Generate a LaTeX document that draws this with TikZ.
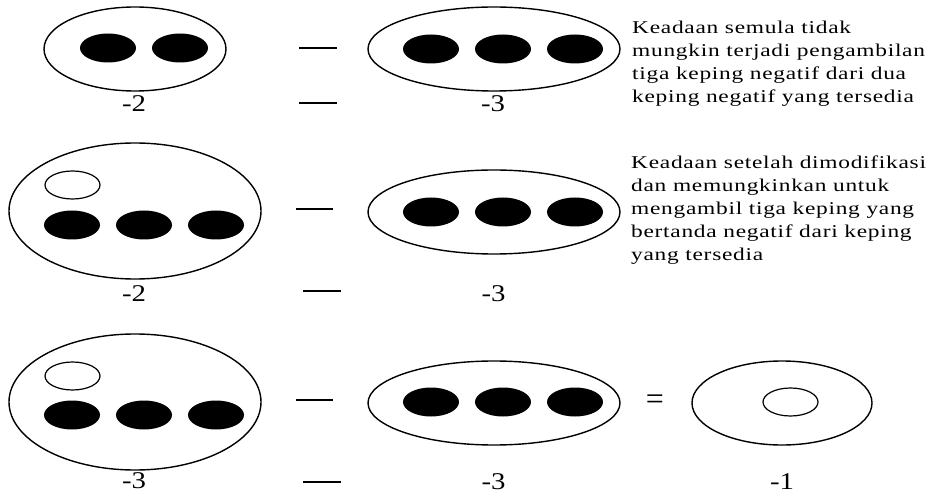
\documentclass[tikz,border=0pt]{standalone}
\usepackage{fontspec}
\setmainfont{Liberation Serif}
\newfontfamily\notefont[FakeStretch=1.3, LetterSpace=4]{Liberation Serif}
\newfontfamily\valfont[FakeStretch=1.2]{Liberation Serif}
\usetikzlibrary{shapes.geometric}

\tikzset{
  tray/.style={ellipse, draw=black, line width=1.4pt, fill=white, inner sep=0pt},
  chip/.style={ellipse, fill=black, inner sep=0pt, minimum width=56pt, minimum height=29pt},
  posichip/.style={ellipse, draw=black, line width=1.2pt, fill=white, inner sep=0pt, minimum width=55pt, minimum height=28pt},
  minus/.style={line width=1.3pt},
  val/.style={inner sep=0pt, font=\valfont\fontsize{24}{24}\selectfont},
  note/.style={inner sep=0pt, anchor=north west, align=left,
    font=\notefont\fontsize{18}{23}\selectfont},
}

\begin{document}
\begin{tikzpicture}[x=1pt, y=-1pt]
\useasboundingbox (0,0) rectangle (937,494);

% ---- row 1: (-2) - (-3) ----
\node[tray, minimum width=182pt, minimum height=84pt] (a1) at (135,49) {};
\node[chip] (a1c1) at (108,48) {};
\node[chip] (a1c2) at (180,48) {};
\node[val] (a1v) at (134,104) {-2};

\draw[minus] (299,48) -- (337,48);
\draw[minus] (299,103) -- (337,103);

\node[tray, minimum width=252pt, minimum height=84pt] (b1) at (494,49) {};
\node[chip] (b1c1) at (431,49) {};
\node[chip] (b1c2) at (503,49) {};
\node[chip] (b1c3) at (575,49) {};
\node[val] (b1v) at (493,104) {-3};

\node[note] (n1) at (632,20.5) {Keadaan semula tidak\\mungkin terjadi pengambilan\\tiga keping negatif dari dua\\keping negatif yang tersedia};

% ---- row 2: modified (-2) - (-3) ----
\node[tray, minimum width=252pt, minimum height=136pt] (a2) at (135,211) {};
\node[posichip] (a2p) at (72.5,185) {};
\node[chip] (a2c1) at (72,225) {};
\node[chip] (a2c2) at (144,225) {};
\node[chip] (a2c3) at (216,225) {};
\node[val] (a2v) at (134,293.5) {-2};

\draw[minus] (296,209) -- (333,209);
\draw[minus] (303,291) -- (341,291);

\node[tray, minimum width=252pt, minimum height=84pt] (b2) at (494,212) {};
\node[chip] (b2c1) at (431,212) {};
\node[chip] (b2c2) at (503,212) {};
\node[chip] (b2c3) at (575,212) {};
\node[val] (b2v) at (493.5,293.5) {-3};

\node[note] (n2) at (631,155.5) {Keadaan setelah dimodifikasi\\dan memungkinkan untuk\\mengambil tiga keping yang\\bertanda negatif dari keping\\yang tersedia};

% ---- row 3: (-3) - (-3) = (-1) ----
\node[tray, minimum width=252pt, minimum height=136pt] (a3) at (135,402) {};
\node[posichip] (a3p) at (72.5,376) {};
\node[chip] (a3c1) at (72,415) {};
\node[chip] (a3c2) at (144,415) {};
\node[chip] (a3c3) at (216,415) {};
\node[val] (a3v) at (134,481) {-3};

\draw[minus] (296,400) -- (333,400);
\draw[minus] (303,482) -- (341,482);

\node[tray, minimum width=252pt, minimum height=84pt] (b3) at (494,403) {};
\node[chip] (b3c1) at (431,402) {};
\node[chip] (b3c2) at (503,402) {};
\node[chip] (b3c3) at (575,402) {};
\node[val] (b3v) at (493.5,481.5) {-3};

\node[inner sep=0pt, font=\fontsize{32}{32}\selectfont] (eq) at (655,402) {=};

\node[tray, minimum width=180pt, minimum height=84pt] (c3) at (782,403) {};
\node[posichip] (c3p) at (790.5,402) {};
\node[val] (c3v) at (782,481.5) {-1};
\end{tikzpicture}
\end{document}
